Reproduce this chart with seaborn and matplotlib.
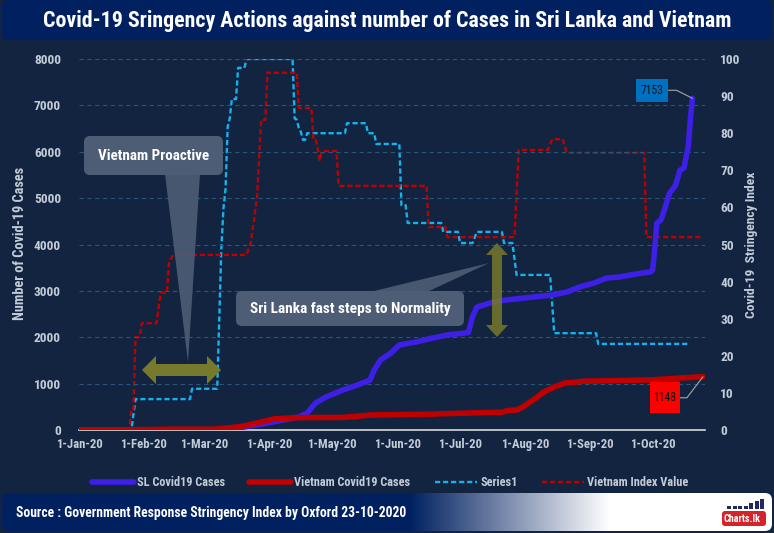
import matplotlib
matplotlib.use("Agg")
import numpy as np
import pandas as pd
import matplotlib.pyplot as plt
from matplotlib.patches import FancyBboxPatch, Polygon, Rectangle
from matplotlib.lines import Line2D
from matplotlib.transforms import Affine2D
from matplotlib import font_manager
import seaborn as sns

# ---------------- data ----------------
sl_case_dates = ["2020-01-01", "2020-03-10", "2020-03-13", "2020-03-31", "2020-04-15",
                 "2020-04-19", "2020-04-23", "2020-04-28", "2020-05-06", "2020-05-13",
                 "2020-05-19", "2020-05-21", "2020-05-24", "2020-05-29", "2020-06-02",
                 "2020-06-10", "2020-06-18", "2020-06-25", "2020-07-05", "2020-07-07",
                 "2020-07-09", "2020-07-17", "2020-07-23", "2020-08-05", "2020-08-14",
                 "2020-08-21", "2020-08-27", "2020-09-03", "2020-09-09", "2020-09-15",
                 "2020-09-23", "2020-09-30", "2020-10-01", "2020-10-02", "2020-10-03",
                 "2020-10-05", "2020-10-07", "2020-10-09", "2020-10-12", "2020-10-14",
                 "2020-10-16", "2020-10-17", "2020-10-18", "2020-10-19", "2020-10-20"]
sl_cases = [0, 0, 10, 150, 280,
            367, 582, 712, 862, 970,
            1078, 1294, 1509, 1660, 1833,
            1898, 1984, 2049, 2100, 2450,
            2650, 2760, 2803, 2868, 2911,
            2975, 3083, 3170, 3277, 3299,
            3364, 3407, 3450, 3900, 4460,
            4530, 4800, 5100, 5280, 5600,
            5650, 5900, 6100, 6700, 7153]

vn_case_dates = ["2020-01-01", "2020-01-23", "2020-02-13", "2020-03-05", "2020-03-13",
                 "2020-03-19", "2020-03-30", "2020-04-03", "2020-04-15", "2020-05-06",
                 "2020-05-17", "2020-05-20", "2020-06-18", "2020-06-21", "2020-07-21",
                 "2020-07-24", "2020-07-28", "2020-07-31", "2020-08-02", "2020-08-05",
                 "2020-08-10", "2020-08-15", "2020-08-20", "2020-08-26", "2020-08-28",
                 "2020-09-30", "2020-10-14", "2020-10-25"]
vn_cases = [0, 2, 16, 16, 47,
            80, 194, 240, 268, 271,
            314, 324, 342, 349, 384,
            420, 431, 496, 560, 647,
            819, 927, 1013, 1035, 1050,
            1080, 1120, 1148]

sl_index_dates = ["2020-01-01", "2020-01-26", "2020-01-28", "2020-02-23", "2020-02-24",
                  "2020-03-07", "2020-03-09", "2020-03-10", "2020-03-11", "2020-03-12",
                  "2020-03-13", "2020-03-14", "2020-03-16", "2020-03-17", "2020-03-20",
                  "2020-03-21", "2020-04-12", "2020-04-13", "2020-04-14", "2020-04-15",
                  "2020-04-16", "2020-04-17", "2020-04-18", "2020-04-19", "2020-05-07",
                  "2020-05-08", "2020-05-17", "2020-05-18", "2020-05-21", "2020-05-22",
                  "2020-06-02", "2020-06-03", "2020-06-05", "2020-06-06", "2020-06-22",
                  "2020-06-23", "2020-06-30", "2020-07-01", "2020-07-07", "2020-07-09",
                  "2020-07-21", "2020-07-22", "2020-07-26", "2020-07-28", "2020-08-13",
                  "2020-08-15", "2020-09-04", "2020-09-05", "2020-10-18"]
sl_index = [0, 0, 8.33, 8.33, 11.11,
            11.11, 49, 59.8, 65, 81.7,
            84, 89.2, 89.2, 97.6, 97.6,
            100, 100, 84, 83.6, 81.4,
            80.3, 78.2, 78.2, 80, 80,
            82.7, 82.7, 80, 80, 77.1,
            77.1, 60.6, 60.6, 55.8, 55.8,
            53.4, 53.4, 50.4, 50.4, 53.4,
            53.4, 50.4, 50.4, 41.8, 41.8,
            26.1, 26.1, 23.2, 23.2]

vn_index_dates = ["2020-01-01", "2020-01-25", "2020-01-26", "2020-01-27", "2020-01-28",
                  "2020-01-30", "2020-01-31", "2020-02-07", "2020-02-09", "2020-02-12",
                  "2020-02-13", "2020-02-15", "2020-03-21", "2020-03-23", "2020-03-26",
                  "2020-03-28", "2020-03-30", "2020-03-31", "2020-04-14", "2020-04-15",
                  "2020-04-21", "2020-04-22", "2020-04-23", "2020-04-24", "2020-04-25",
                  "2020-04-26", "2020-05-03", "2020-05-04", "2020-06-15", "2020-06-16",
                  "2020-06-24", "2020-06-25", "2020-07-27", "2020-07-29", "2020-08-12",
                  "2020-08-14", "2020-08-19", "2020-08-21", "2020-09-27", "2020-09-28",
                  "2020-10-25"]
vn_index = [0, 0, 5.6, 5.6, 25,
            25, 28.8, 28.8, 37, 37,
            45.4, 47.2, 47.2, 50.4, 62.5,
            83.6, 83.6, 96.3, 96.3, 86.8,
            86.8, 78.2, 78.2, 76, 72.8,
            75.2, 75.2, 65.8, 65.8, 54.7,
            54.7, 52, 52, 75.5, 75.5,
            78.4, 78.4, 74.7, 74.7, 52,
            52]

month_ticks = ["2020-01-01", "2020-02-01", "2020-03-01", "2020-04-01", "2020-05-01",
               "2020-06-01", "2020-07-01", "2020-08-01", "2020-09-01", "2020-10-01"]
month_labels = ["1-Jan-20", "1-Feb-20", "1-Mar-20", "1-Apr-20", "1-May-20",
                "1-Jun-20", "1-Jul-20", "1-Aug-20", "1-Sep-20", "1-Oct-20"]
case_ticks = [0, 1000, 2000, 3000, 4000, 5000, 6000, 7000, 8000]
index_ticks = [0, 10, 20, 30, 40, 50, 60, 70, 80, 90, 100]
series_names = ["SL Covid19 Cases", "Vietnam Covid19 Cases", "Series1", "Vietnam Index Value"]
title_text = "Covid-19 Sringency Actions against number of Cases in Sri Lanka and Vietnam"
source_text = "Source : Government Response Stringency Index by Oxford 23-10-2020"
left_label = "Number of Covid-19 Cases"
right_label = "Covid-19  Stringency Index"
callout1 = "Vietnam Proactive"
callout2 = "Sri Lanka fast steps to Normality"

# ---------------- style ----------------
sns.set_theme(style="dark")
entries = font_manager.fontManager.ttflist
names = {f.name for f in entries}
family, stretch = None, 'normal'
for cand in ['Liberation Sans Narrow', 'Roboto Condensed', 'Open Sans Condensed',
             'Noto Sans Condensed', 'DejaVu Sans Condensed', 'Noto Sans Display Condensed',
             'Arial Narrow']:
    if cand in names:
        family = cand
        break
if family is None:
    for f in entries:
        if str(f.stretch) in ('condensed', 'semi-condensed', 'extra-condensed') and \
                f.name in ('DejaVu Sans', 'Noto Sans', 'Open Sans', 'Roboto', 'Liberation Sans'):
            family, stretch = f.name, f.stretch
            break
if family is None:
    family = 'Roboto' if 'Roboto' in names else 'DejaVu Sans'
plt.rcParams['font.family'] = [family, 'DejaVu Sans']
plt.rcParams['font.stretch'] = stretch
plt.rcParams['font.weight'] = 'bold'

BG = '#12243f'
NAVY = '#002060'
TICK = '#c3ccd8'
C_SL = '#3d1fe6'
C_VN = '#c00000'
C_S1 = '#16b2ee'
C_VI = '#c00000'
BOX = '#4e5d76'
OLIVE = '#777a2c'

W, H = 774, 533
fig = plt.figure(figsize=(W / 100, H / 100), dpi=100)
fig.patch.set_facecolor(BG)
T = Affine2D().scale(1, -1).translate(0, H)   # pixel coords, y measured from top
renderer = fig.canvas.get_renderer()


def fx(x):
    return x / W


def fy(y):
    return 1 - y / H


def size_for(s, target, base=10):
    t = fig.text(0, 0, s, fontsize=base)
    w = t.get_window_extent(renderer).width
    t.remove()
    return base * target / w


def fit(t, target):
    w = t.get_window_extent(renderer).width
    t.set_fontsize(t.get_fontsize() * target / w)


FS_X = size_for("1-Feb-20", 47)
FS_Y = size_for("8000", 27)
FS_AX = size_for(left_label, 153)

ax = fig.add_axes([fx(79), fy(430), fx(705) - fx(79), fy(59) - fy(430)])
ax2 = ax.twinx()
for a in (ax, ax2):
    a.set_facecolor('none')
    a.patch.set_visible(False)
ax.set_zorder(3)
ax2.set_zorder(2)

df_sl = pd.DataFrame({"date": pd.to_datetime(sl_case_dates), "value": sl_cases})
df_vn = pd.DataFrame({"date": pd.to_datetime(vn_case_dates), "value": vn_cases})
df_s1 = pd.DataFrame({"date": pd.to_datetime(sl_index_dates), "value": sl_index})
df_vi = pd.DataFrame({"date": pd.to_datetime(vn_index_dates), "value": vn_index})

sns.lineplot(data=df_s1, x="date", y="value", ax=ax2, color=C_S1, linewidth=1.7,
             linestyle=(0, (2.2, 1.2)), legend=False, zorder=2)
sns.lineplot(data=df_vi, x="date", y="value", ax=ax2, color=C_VI, linewidth=1.7,
             linestyle=(0, (2.2, 1.2)), legend=False, zorder=2)
sns.lineplot(data=df_sl, x="date", y="value", ax=ax, color=C_SL, linewidth=4,
             legend=False, zorder=3)
sns.lineplot(data=df_vn, x="date", y="value", ax=ax, color=C_VN, linewidth=4,
             legend=False, zorder=4)

ax.set_xlim(pd.Timestamp("2020-01-01"), pd.Timestamp("2020-10-26"))
ax.set_ylim(case_ticks[0], case_ticks[-1])
ax2.set_ylim(index_ticks[0], index_ticks[-1])
ax.set_yticks(case_ticks)
ax.set_yticklabels([str(v) for v in case_ticks])
ax2.set_yticks(index_ticks)
ax2.set_yticklabels([str(v) for v in index_ticks])
ax.set_xticks(pd.to_datetime(month_ticks))
ax.set_xticklabels(month_labels)
ax.set_xlabel("")
ax.set_ylabel("")
ax2.set_ylabel("")

ax.tick_params(axis='x', length=0, labelcolor=TICK, labelsize=FS_X, pad=6)
ax.tick_params(axis='y', length=0, labelcolor=TICK, labelsize=FS_Y, pad=13)
ax2.tick_params(axis='y', length=0, labelcolor=TICK, labelsize=FS_Y, pad=11)

ax.grid(False)
ax2.grid(False)
ax.yaxis.grid(True, color='#2c5378', linestyle=(0, (4, 3)), linewidth=0.8)
ax.set_axisbelow(True)
for s in ['top', 'left', 'right']:
    ax.spines[s].set_visible(False)
for s in ax2.spines.values():
    s.set_visible(False)
ax.spines['bottom'].set_color('#d9d9d9')
ax.spines['bottom'].set_linewidth(1.2)
ax.spines['bottom'].set_zorder(2.5)

# axis titles
fig.text(20, 243, left_label, transform=T, rotation=90, ha='center', va='center',
         color=TICK, fontsize=FS_AX)
rl = fig.text(751, 245, right_label, transform=T, rotation=90, ha='center', va='center',
              color=TICK, fontsize=FS_AX)
hr = rl.get_window_extent(renderer).height
rl.set_fontsize(FS_AX * 146 / hr)

# title band
fig.add_artist(FancyBboxPatch((2, 0), 770, 40, boxstyle='round,pad=0,rounding_size=7',
                              fc=NAVY, ec='none', transform=T, zorder=1))
tt = fig.text(387, 21, title_text, transform=T, ha='center', va='center',
              color='white', fontsize=16, zorder=2)
fit(tt, 690)

# footer band with gradient
ax_f = fig.add_axes([0, fy(531), 1, fy(493) - fy(531)])
ax_f.set_axis_off()
xs = np.linspace(0, W, 500)
tgrad = np.clip((xs - 410) / 200, 0, 1)
navy_rgb = np.array([0, 32, 96]) / 255
grad = navy_rgb[None, :] * (1 - tgrad[:, None]) + tgrad[:, None]
img = ax_f.imshow(grad[None, :, :], aspect='auto', extent=[0, 1, 0, 1])
clip = FancyBboxPatch((2, 493), 770, 38, boxstyle='round,pad=0,rounding_size=7',
                      transform=T)
img.set_clip_path(clip)
st = fig.text(16, 513, source_text, transform=T, ha='left', va='center', color='white',
              fontsize=11, zorder=3)
fit(st, 390)

# logo
for i, hgt in enumerate([3, 3, 3, 3, 6, 8, 10]):
    fig.add_artist(Rectangle((727 + i * 5.5, 509 - hgt), 4, hgt, fc='#1d2c5c', ec='none',
                             transform=T, zorder=3))
fig.add_artist(FancyBboxPatch((722, 511), 44, 15, boxstyle='round,pad=0,rounding_size=3',
                              fc='#d5232a', ec='none', transform=T, zorder=3))
lg = fig.text(742, 519, "Charts.lk", transform=T, ha='center', va='center', color='white',
              fontsize=7.5, zorder=4)
fit(lg, 36)

# callouts
fig.add_artist(Polygon([(165, 174), (200, 174), (188, 362)], closed=True, fc=BOX,
                       ec='none', alpha=0.9, transform=T, zorder=5))
fig.add_artist(FancyBboxPatch((84, 136), 139, 39, boxstyle='round,pad=0,rounding_size=6',
                              fc=BOX, ec='none', transform=T, zorder=5))
c1 = fig.text(153.5, 156, callout1, transform=T, ha='center', va='center', color='white',
              fontsize=12, zorder=6)
fit(c1, 112)

fig.add_artist(Polygon([(370, 292), (427, 292), (489, 263)], closed=True, fc=BOX,
                       ec='none', alpha=0.9, transform=T, zorder=5))
fig.add_artist(FancyBboxPatch((236, 291), 228, 35, boxstyle='round,pad=0,rounding_size=6',
                              fc=BOX, ec='none', transform=T, zorder=5))
c2 = fig.text(350, 309, callout2, transform=T, ha='center', va='center', color='white',
              fontsize=12, zorder=6)
fit(c2, 202)

# olive double arrows
harrow = [(142, 370), (156, 356), (156, 364), (207, 364), (207, 356), (221, 370),
          (207, 384), (207, 376), (156, 376), (156, 384)]
fig.add_artist(Polygon(harrow, closed=True, fc=OLIVE, ec='none', transform=T, zorder=7))
varrow = [(497, 243), (508, 255), (502, 255), (502, 325), (508, 325), (497, 337),
          (486, 325), (492, 325), (492, 255), (486, 255)]
fig.add_artist(Polygon(varrow, closed=True, fc=OLIVE, ec='none', alpha=0.85,
                       transform=T, zorder=7))


# data labels anchored to last data points
def point_px(a, date, value):
    dx, dy = a.transData.transform((matplotlib.dates.date2num(pd.Timestamp(date)), value))
    return dx, H - dy


FS_LBL = size_for("7153", 24)
px, py = point_px(ax, sl_case_dates[-1], sl_cases[-1])
fig.add_artist(Line2D([px - 24, px - 16, px], [py - 8, py - 8, py], color='#a6a6a6', lw=0.8,
                      transform=T, zorder=6))
fig.add_artist(Rectangle((px - 56, py - 19), 32, 23, fc='#0070c0', ec='none', transform=T,
                         zorder=6))
fig.text(px - 40, py - 7.5, str(sl_cases[-1]), transform=T, ha='center', va='center',
         color='#111111', fontsize=FS_LBL, zorder=7, fontweight='normal')

qx, qy = point_px(ax, vn_case_dates[-1], vn_cases[-1])
fig.add_artist(Line2D([qx - 23, qx - 16, qx], [qy + 21, qy + 21, qy], color='#a6a6a6',
                      lw=0.8, transform=T, zorder=6))
fig.add_artist(Rectangle((qx - 53, qy + 5), 30, 31, fc='#ff0000', ec='none', transform=T,
                         zorder=6))
fig.text(qx - 38, qy + 20.5, str(vn_cases[-1]), transform=T, ha='center', va='center',
         color='#111111', fontsize=FS_LBL, zorder=7, fontweight='normal')

# legend (sized to span the same width as the reference legend)
handles = [ax.get_lines()[0], ax.get_lines()[1], ax2.get_lines()[0], ax2.get_lines()[1]]


def make_legend(fs):
    return fig.legend(handles, series_names, loc='center', bbox_to_anchor=(fx(390), fy(483)),
                      ncol=4, frameon=False, fontsize=fs, labelcolor=TICK, handlelength=3.4,
                      handletextpad=0.25, columnspacing=2.0)


leg = make_legend(9.5)
wl = leg.get_window_extent(renderer).width
leg.remove()
leg = make_legend(9.5 * 610 / wl)

fig.savefig("out.png", dpi=100, facecolor=fig.get_facecolor())
